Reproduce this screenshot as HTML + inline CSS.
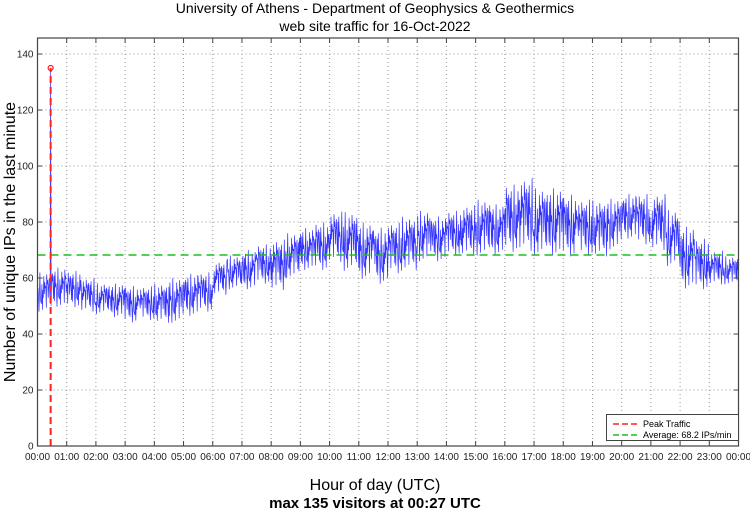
<!DOCTYPE html>
<html><head><meta charset="utf-8"><style>
body{margin:0;background:#fff;font-family:"Liberation Sans",sans-serif}
svg{display:block}
</style></head><body>
<svg id="c" width="750" height="511" font-family="Liberation Sans, sans-serif">
<text x="375" y="13" text-anchor="middle" font-size="14">University of Athens - Department of Geophysics &amp; Geothermics</text>
<text x="375" y="31" text-anchor="middle" font-size="14">web site traffic for 16-Oct-2022</text>
<text x="375" y="490" text-anchor="middle" font-size="16">Hour of day (UTC)</text>
<text x="375" y="508" text-anchor="middle" font-size="15" font-weight="bold">max 135 visitors at 00:27 UTC</text>
<text transform="translate(15,242) rotate(-90)" text-anchor="middle" font-size="16">Number of unique IPs in the last minute</text>
<g id="grid"></g><g id="series"></g><g id="axes"></g>
</svg>
<script>
const bucketMean=[55,56,55,54,53,52,51,51,51,52,53,55,60,62,63,65,64,68,70,71,74,72,69,68,70,72,75,74,76,77,78,78,80,82,80,80,78,78,77,80,82,81,80,75,68,65,63,62];
const bucketLow=[48,50,50,48,47,46,44,45,44,44,47,48,54,56,56,58,56,60,63,63,66,63,60,58,62,63,66,66,68,68,68,68,70,70,68,68,68,68,68,70,74,72,70,64,56,56,58,58];
const bucketHigh=[62,64,63,60,58,58,57,57,58,60,62,62,66,68,70,72,74,76,78,80,84,84,80,78,80,82,84,82,84,86,88,86,94,96,92,92,90,88,88,88,90,90,90,84,78,74,70,68];
const yTicks=[0,20,40,60,80,100,120,140];
const xTickLabels=["00:00","01:00","02:00","03:00","04:00","05:00","06:00","07:00","08:00","09:00","10:00","11:00","12:00","13:00","14:00","15:00","16:00","17:00","18:00","19:00","20:00","21:00","22:00","23:00","00:00"];
const peakMinute=27, peakValue=135, averageValue=68.2;
const jitter=[0.5,0.9,0.2,0.7,0.35,1,0.1,0.6,0.45,0.8,0.05,0.65,0.3,0.95,0.4,0.75,0.15,0.55,0.85,0.25,0.7,0.0,0.6,0.9,0.35,0.5,0.2,0.8,0.45,0.65];
const L=37.5,R=738.5,T=38,B=446;
const xs=m=>L+(R-L)*m/1440, ys=v=>B-(B-54)*v/140;
const NS="http://www.w3.org/2000/svg";
function mk(t,a,p){const e=document.createElementNS(NS,t);for(const k in a)e.setAttribute(k,a[k]);p.appendChild(e);return e;}
const grid=document.getElementById('grid'),ser=document.getElementById('series'),ax=document.getElementById('axes');
xTickLabels.forEach((s,i)=>{const x=xs(i*60);
 if(i>0&&i<24){const g=mk('line',{x1:x,x2:x,y1:T,y2:B,stroke:'#999','stroke-dasharray':'1,3','stroke-width':1},grid);
 
 }
 mk('line',{x1:x,x2:x,y1:B,y2:B-5,stroke:'#444'},ax);mk('line',{x1:x,x2:x,y1:T,y2:T+5,stroke:'#444'},ax);
 const t=mk('text',{x:x,y:B+14,'text-anchor':'middle','font-size':10,fill:'#222'},ax);t.textContent=s;
 
 });
yTicks.forEach(v=>{const y=ys(v);
 if(v>0){const g=mk('line',{x1:L,x2:R,y1:y,y2:y,stroke:'#999','stroke-dasharray':'1,3'},grid);
 
 }
 mk('line',{x1:L,x2:L+5,y1:y,y2:y,stroke:'#444'},ax);mk('line',{x1:R,x2:R-5,y1:y,y2:y,stroke:'#444'},ax);
 const t=mk('text',{x:L-4,y:y+3.5,'text-anchor':'end','font-size':10,fill:'#222'},ax);t.textContent=v;
 
 });
const fr=mk('rect',{x:L,y:T,width:R-L,height:B-T,fill:'none',stroke:'#444','stroke-width':1.2},ax);


let pts=[];
for(let m=0;m<1440;m++){const b=Math.floor(m/30);let v;
 if(m===peakMinute)v=peakValue;else{const j=jitter[(m*7+b*11)%30];v=bucketLow[b]+(bucketHigh[b]-bucketLow[b])*j+(bucketMean[b]-(bucketLow[b]+bucketHigh[b])/2)*0.3;}
 pts.push(xs(m).toFixed(1)+','+ys(v).toFixed(1));}
const line=mk('polyline',{points:pts.join(' '),fill:'none',stroke:'#0000ff','stroke-width':0.7,'stroke-opacity':0.8},ser);


const av=mk('line',{x1:L,x2:R,y1:ys(averageValue),y2:ys(averageValue),stroke:'#1fbf1f','stroke-width':1.5,'stroke-dasharray':'8,5'},ser);


const pk=mk('line',{x1:xs(peakMinute),x2:xs(peakMinute),y1:B,y2:ys(peakValue),stroke:'#ff2020','stroke-width':2,'stroke-dasharray':'7,4'},ser);


const pc=mk('circle',{cx:xs(peakMinute),cy:ys(peakValue),r:2.5,fill:'none',stroke:'#ff2020','stroke-width':1.2},ser);


const lg=mk('g',{},ax);


mk('rect',{x:606.5,y:414.5,width:132,height:26,fill:'#fff',stroke:'#444'},lg);
mk('line',{x1:613,x2:639,y1:424,y2:424,stroke:'#ff2020','stroke-width':1.5,'stroke-dasharray':'6,3'},lg);
mk('line',{x1:613,x2:639,y1:435,y2:435,stroke:'#1fbf1f','stroke-width':1.5,'stroke-dasharray':'6,3'},lg);
const t1=mk('text',{x:643,y:427,'font-size':9},lg);t1.textContent='Peak Traffic';


const t2=mk('text',{x:643,y:438,'font-size':9},lg);t2.textContent='Average: '+averageValue+' IPs/min';


</script>
</body></html>
